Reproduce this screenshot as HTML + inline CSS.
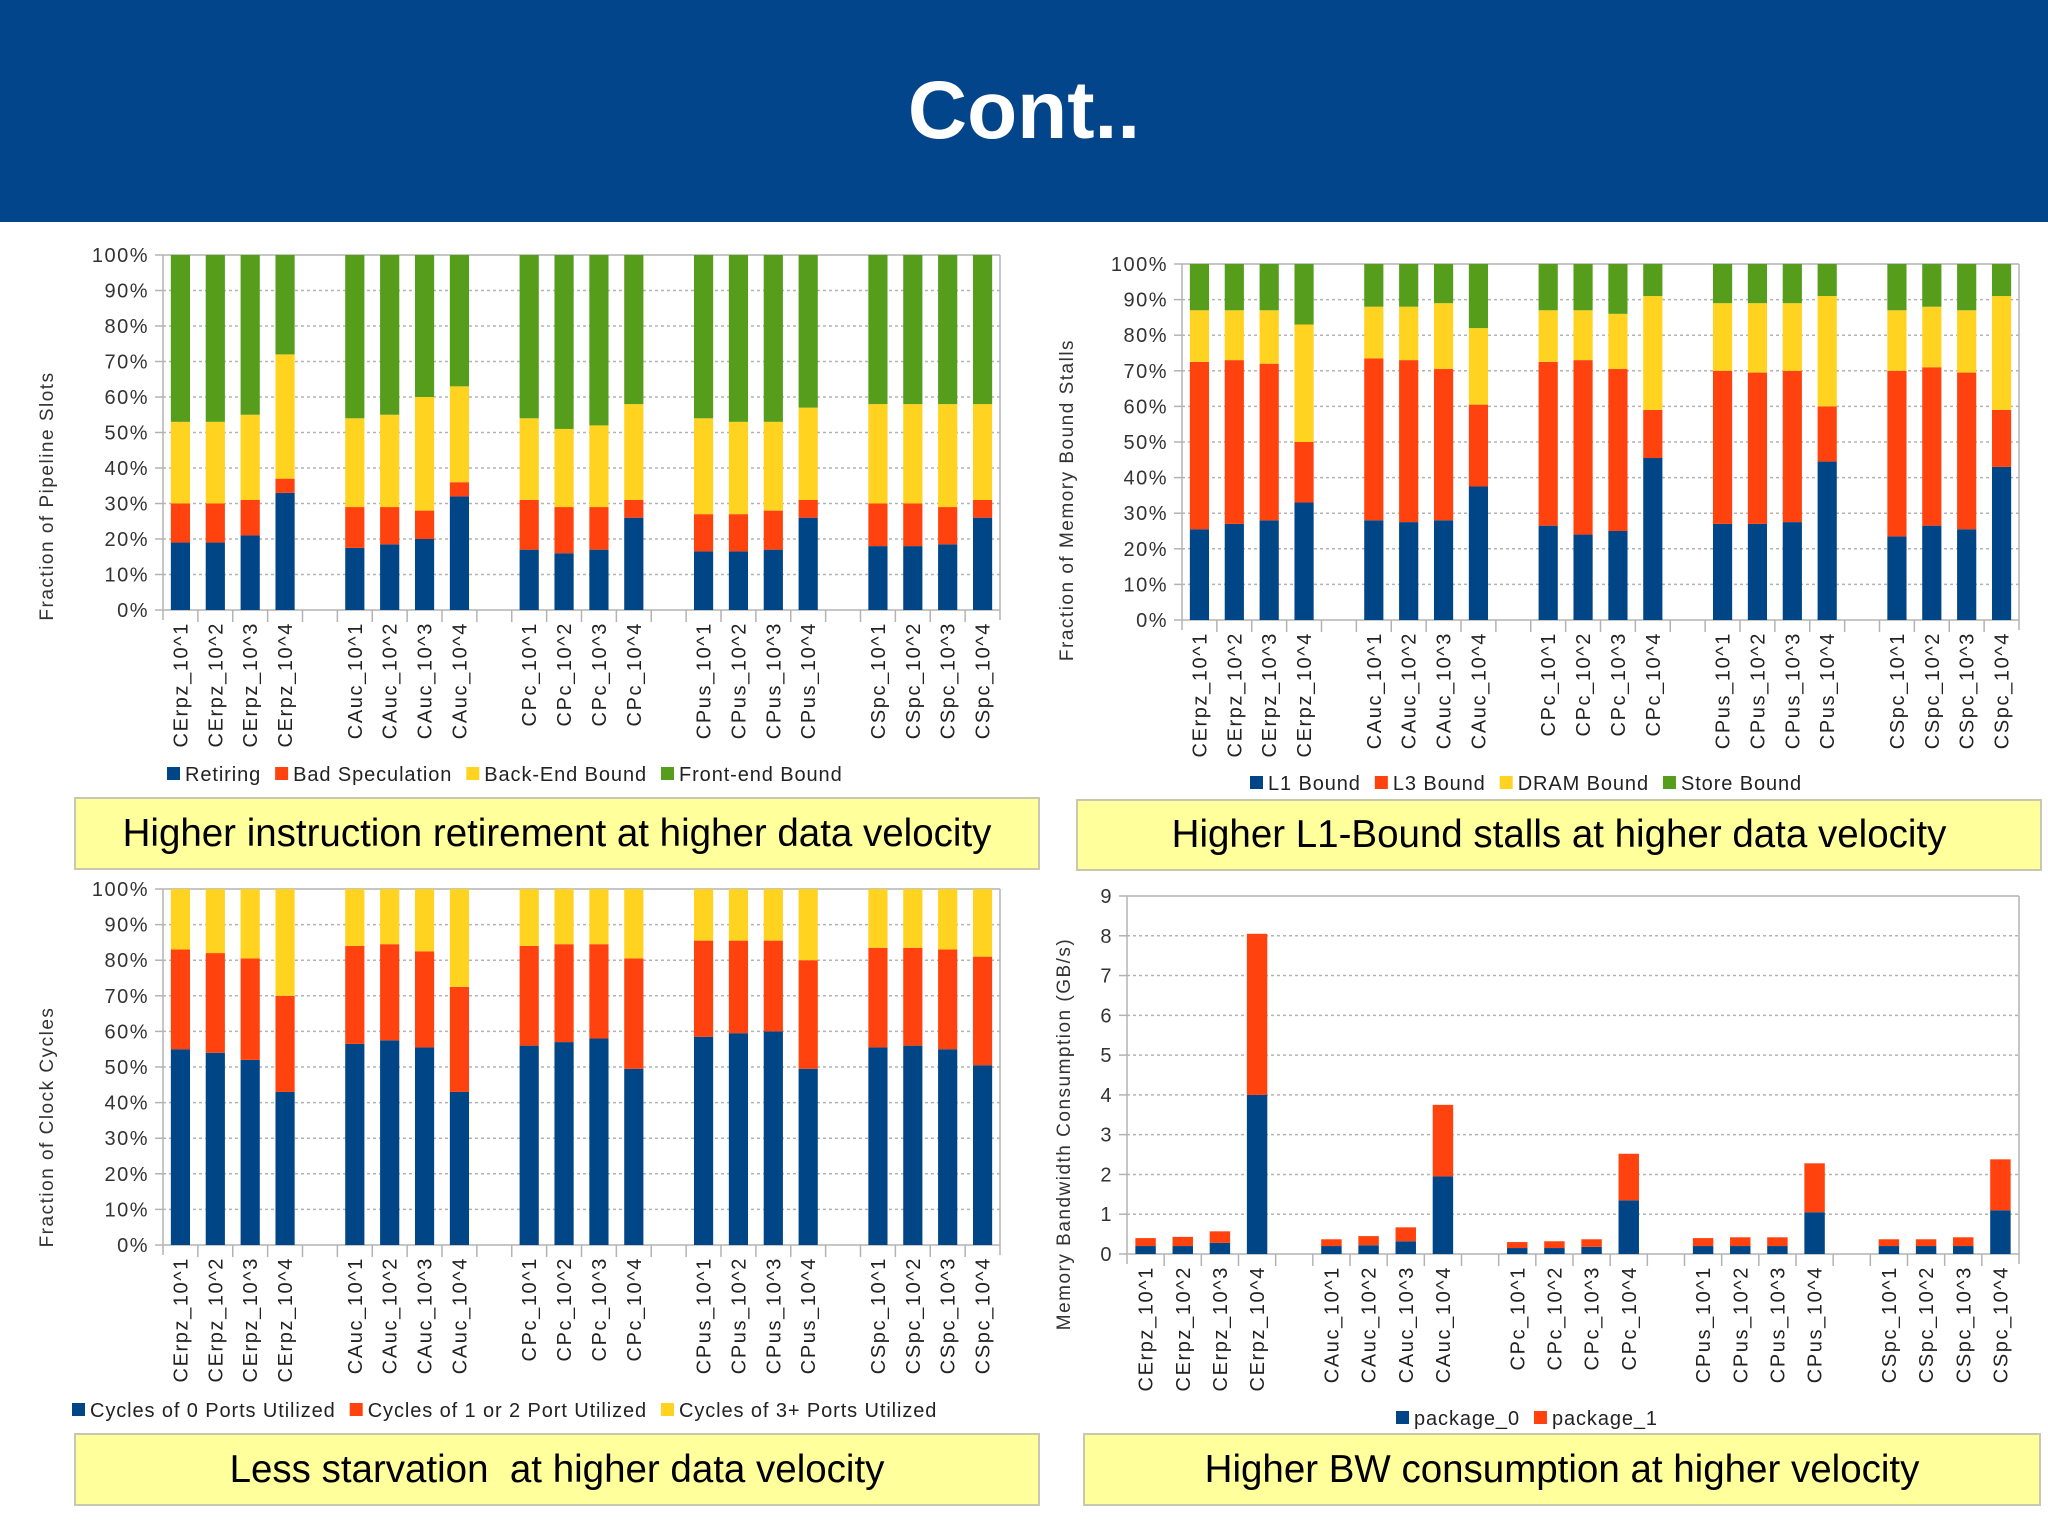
<!DOCTYPE html>
<html><head><meta charset="utf-8"><style>
html,body{margin:0;padding:0;background:#fff;width:2048px;height:1535px;overflow:hidden;font-family:"Liberation Sans",sans-serif}
#hdr{position:absolute;left:0;top:0;width:2048px;height:222px;background:#03458a;color:#fff;font-weight:bold;font-size:82px;text-align:center;line-height:222px}
.cap{position:absolute;background:#ffff9c;border:2px solid #c8c8b0;box-sizing:border-box;font-size:38.5px;text-align:center;color:#000}
svg{position:absolute;left:0;top:0}
</style></head><body>
<div id="hdr">Cont..</div>
<svg id="sv" width="2048" height="1535"></svg>
<div class="cap" style="left:74px;top:797px;width:966px;height:73px;line-height:69px">Higher instruction retirement at higher data velocity</div>
<div class="cap" style="left:1076px;top:799px;width:966px;height:72px;line-height:68px">Higher L1-Bound stalls at higher data velocity</div>
<div class="cap" style="left:74px;top:1433px;width:966px;height:73px;line-height:69px">Less starvation &nbsp;at higher data velocity</div>
<div class="cap" style="left:1083px;top:1433px;width:958px;height:73px;line-height:69px">Higher BW consumption at higher velocity</div>
<script>
const categories=["CErpz_10^1","CErpz_10^2","CErpz_10^3","CErpz_10^4","CAuc_10^1","CAuc_10^2","CAuc_10^3","CAuc_10^4","CPc_10^1","CPc_10^2","CPc_10^3","CPc_10^4","CPus_10^1","CPus_10^2","CPus_10^3","CPus_10^4","CSpc_10^1","CSpc_10^2","CSpc_10^3","CSpc_10^4"];
const pctTicks=["0%","10%","20%","30%","40%","50%","60%","70%","80%","90%","100%"];
const bwTicks=["0","1","2","3","4","5","6","7","8","9"];
const retiring=[19,19,21,33,17.5,18.5,20,32,17,16,17,26,16.5,16.5,17,26,18,18,18.5,26];
const badSpeculation=[11,11,10,4,11.5,10.5,8,4,14,13,12,5,10.5,10.5,11,5,12,12,10.5,5];
const backEndBound=[23,23,24,35,25,26,32,27,23,22,23,27,27,26,25,26,28,28,29,27];
const frontEndBound=[47,47,45,28,46,45,40,37,46,49,48,42,46,47,47,43,42,42,42,42];
const l1Bound=[25.5,27,28,33,28,27.5,28,37.5,26.5,24,25,45.5,27,27,27.5,44.5,23.5,26.5,25.5,43];
const l3Bound=[47,46,44,17,45.5,45.5,42.5,23,46,49,45.5,13.5,43,42.5,42.5,15.5,46.5,44.5,44,16];
const dramBound=[14.5,14,15,33,14.5,15,18.5,21.5,14.5,14,15.5,32,19,19.5,19,31,17,17,17.5,32];
const storeBound=[13,13,13,17,12,12,11,18,13,13,14,9,11,11,11,9,13,12,13,9];
const ports0=[55,54,52,43,56.5,57.5,55.5,43,56,57,58,49.5,58.5,59.5,60,49.5,55.5,56,55,50.5];
const ports12=[28,28,28.5,27,27.5,27,27,29.5,28,27.5,26.5,31,27,26,25.5,30.5,28,27.5,28,30.5];
const ports3=[17,18,19.5,30,16,15.5,17.5,27.5,16,15.5,15.5,19.5,14.5,14.5,14.5,20,16.5,16.5,17,19];
const package0=[0.2,0.2,0.28,4.0,0.2,0.22,0.32,1.95,0.15,0.15,0.18,1.35,0.2,0.2,0.2,1.05,0.2,0.2,0.2,1.1];
const package1=[0.2,0.23,0.29,4.05,0.17,0.23,0.35,1.8,0.15,0.17,0.19,1.17,0.2,0.22,0.22,1.23,0.17,0.17,0.22,1.28];

const NS="http://www.w3.org/2000/svg";
const sv=document.getElementById('sv');
function mk(tag,attrs,parent){const e=document.createElementNS(NS,tag);for(const k in attrs)e.setAttribute(k,attrs[k]);(parent||sv).appendChild(e);return e;}
const COL={blue:"#004586",orange:"#ff420e",yellow:"#ffd320",green:"#579d1c"};

function chart(c){
  const g=mk('g',{});
  
  
  const {x0,x1,y0,y1,yMax,ticks}=c;
  const ys=v=>y1-(v/yMax)*(y1-y0);
  const nSlots=24, sw=(x1-x0)/nSlots;
  const slotOf=i=>i+Math.floor(i/4);
  const xs=i=>x0+(slotOf(i)+0.5)*sw;
  ticks.forEach((t,k)=>{
    const v=k*c.step, y=ys(v);
    if(k>0){const gl=mk('line',{x1:x0,x2:x1,y1:y,y2:y,stroke:"#b3b3b3","stroke-width":1.5,"stroke-dasharray":k===ticks.length-1?"none":"3,3"},g);
      }
    mk('line',{x1:x0-8,x2:x0,y1:y,y2:y,stroke:"#b3b3b3","stroke-width":1.5},g);
    const tx=mk('text',{x:x0-14,y:y+7,"text-anchor":"end","font-size":20,"letter-spacing":1.5,fill:"#333"},g);
    tx.textContent=t;
    
  });
  mk('line',{x1:x0,x2:x0,y1:y0,y2:y1+10,stroke:"#b3b3b3","stroke-width":1.5},g);
  mk('line',{x1:x1,x2:x1,y1:y0,y2:y1+10,stroke:"#b3b3b3","stroke-width":1.5},g);
  mk('line',{x1:x0,x2:x1,y1:y1,y2:y1,stroke:"#b3b3b3","stroke-width":1.5},g);
  for(let s=1;s<nSlots;s++){mk('line',{x1:x0+s*sw,x2:x0+s*sw,y1:y1,y2:y1+12,stroke:"#b3b3b3","stroke-width":1.5},g);}
  const bw=sw*0.55;
  categories.forEach((cat,i)=>{
    let acc=0;
    c.series.forEach(s=>{
      const v=s.data[i];
      const r=mk('rect',{x:xs(i)-bw/2,y:ys(acc+v),width:bw,height:ys(acc)-ys(acc+v),fill:s.color},g);
      
      
      acc+=v;
    });
    const t=mk('text',{transform:`translate(${xs(i)+7},${y1+12}) rotate(-90)`,"text-anchor":"end","font-size":20,"letter-spacing":1.6,fill:"#222"},g);
    t.textContent=cat;
    
  });
  const at=mk('text',{transform:`translate(${c.tx},${c.ty}) rotate(-90)`,"text-anchor":"middle","font-size":19,"letter-spacing":1.5,fill:"#333"},g);
  at.textContent=c.title;
  
  let lx=c.lx;
  c.series.forEach(s=>{
    const le=mk('g',{},g);
    
    mk('rect',{x:lx,y:c.ly-14,width:13,height:13,fill:s.color},le);
    const t=mk('text',{x:lx+18,y:c.ly,"font-size":20,"letter-spacing":0.9,fill:"#222"},le);
    t.textContent=s.label;
    lx+=18+t.getComputedTextLength()+14;
  });
}
chart({name:'pipeline-slots-chart',x0:163,x1:1000,y0:255,y1:610,yMax:100,step:10,ticks:pctTicks,tx:53,ty:496,title:'Fraction of Pipeline Slots',lx:167,ly:781,
 series:[{key:'retiring',label:'Retiring',data:retiring,color:COL.blue},{key:'bad-spec',label:'Bad Speculation',data:badSpeculation,color:COL.orange},{key:'back-end',label:'Back-End Bound',data:backEndBound,color:COL.yellow},{key:'front-end',label:'Front-end Bound',data:frontEndBound,color:COL.green}]});
chart({name:'memory-stalls-chart',x0:1182,x1:2019,y0:264,y1:620,yMax:100,step:10,ticks:pctTicks,tx:1073,ty:500,title:'Fraction of Memory Bound Stalls',lx:1250,ly:790,
 series:[{key:'l1',label:'L1 Bound',data:l1Bound,color:COL.blue},{key:'l3',label:'L3 Bound',data:l3Bound,color:COL.orange},{key:'dram',label:'DRAM Bound',data:dramBound,color:COL.yellow},{key:'store',label:'Store Bound',data:storeBound,color:COL.green}]});
chart({name:'clock-cycles-chart',x0:163,x1:1000,y0:889,y1:1245,yMax:100,step:10,ticks:pctTicks,tx:53,ty:1127,title:'Fraction of Clock Cycles',lx:72,ly:1417,
 series:[{key:'ports0',label:'Cycles of 0 Ports Utilized',data:ports0,color:COL.blue},{key:'ports12',label:'Cycles of 1 or 2 Port Utilized',data:ports12,color:COL.orange},{key:'ports3',label:'Cycles of 3+ Ports Utilized',data:ports3,color:COL.yellow}]});
chart({name:'bandwidth-chart',x0:1127,x1:2019,y0:896,y1:1254,yMax:9,step:1,ticks:bwTicks,tx:1070,ty:1134,title:'Memory Bandwidth Consumption (GB/s)',lx:1396,ly:1425,
 series:[{key:'package0',label:'package_0',data:package0,color:COL.blue},{key:'package1',label:'package_1',data:package1,color:COL.orange}]});
</script>
</body></html>
